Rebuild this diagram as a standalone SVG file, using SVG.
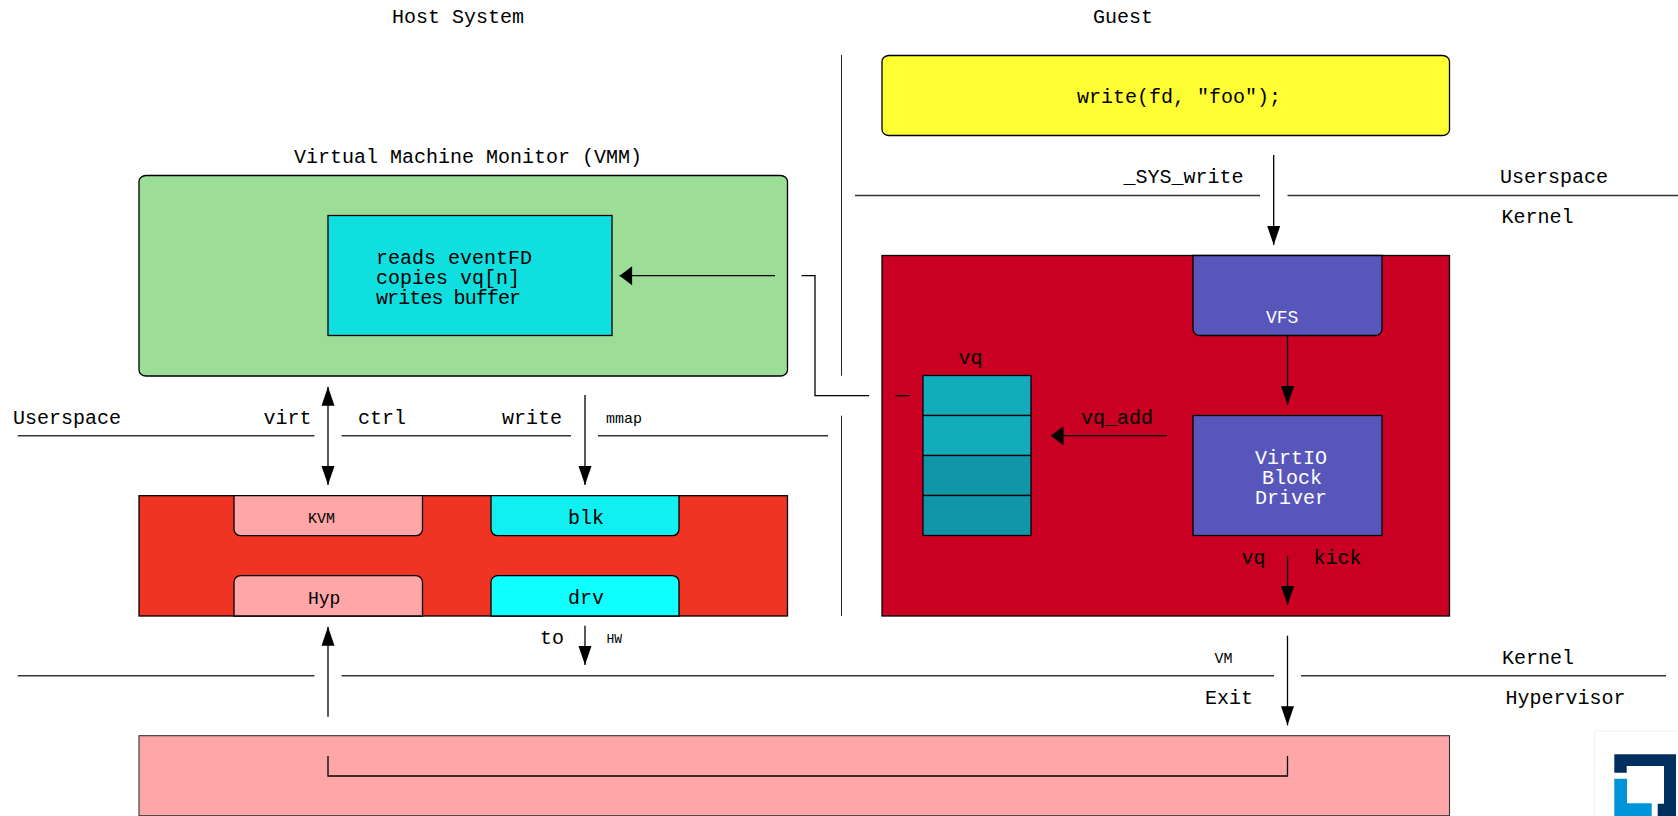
<svg xmlns="http://www.w3.org/2000/svg" width="1678" height="816" viewBox="0 0 1678 816">
<style>
text{font-family:"Liberation Mono","Courier New",monospace;font-size:20px;fill:#000}
.s{font-size:15px}
.m{font-size:18px}
.w{fill:#fff}
.b{stroke:#000;stroke-width:1.3}
.l{fill:none;stroke:#000;stroke-width:1.3}
.t{fill:none;stroke:#222;stroke-width:1}
.g{fill:none;stroke:#333;stroke-width:1.4}
</style>
<defs>
<marker id="down" markerUnits="userSpaceOnUse" markerWidth="14" markerHeight="20" refX="6.5" refY="19" orient="0" overflow="visible"><path d="M0 0L13 0L6.5 19Z"/></marker>
<marker id="up" markerUnits="userSpaceOnUse" markerWidth="14" markerHeight="20" refX="6.5" refY="0" orient="0" overflow="visible"><path d="M0 19L13 19L6.5 0Z"/></marker>
<marker id="left" markerUnits="userSpaceOnUse" markerWidth="13" markerHeight="20" refX="0" refY="9.5" orient="0" overflow="visible"><path d="M12.5 0L12.5 19L0 9.5Z"/></marker>
</defs>
<rect width="1678" height="816" fill="#fff"/>

<g id="titles">
<text x="392" y="23">Host System</text>
<text x="1093" y="23">Guest</text>
<text x="294" y="163">Virtual Machine Monitor (VMM)</text>
</g>

<g id="user-app">
<rect class="b" x="882" y="55.5" width="567.5" height="80" rx="7" ry="6" fill="#ffff33"/>
<text x="1077" y="103">write(fd, "foo");</text>
</g>

<g id="vmm">
<rect class="b" x="139" y="175.5" width="648.5" height="200.5" rx="7" ry="6" fill="#9cde98"/>
</g>
<g id="vmm-worker">
<rect class="b" x="328" y="215.5" width="284" height="120" fill="#10dfdf"/>
<text x="376" y="263.5">reads eventFD</text>
<text x="376" y="283.5">copies vq[n]</text>
<text x="376" y="303.5" style="letter-spacing:-0.92px">writes buffer</text>
</g>

<g id="guest-kernel">
<rect class="b" x="882" y="255.5" width="567.5" height="360.5" fill="#c90022"/>
</g>
<g id="vfs">
<path class="b" d="M1193 255.5H1382V329A6.5 6.5 0 0 1 1375.5 335.5H1199.5A6.5 6.5 0 0 1 1193 329Z" fill="#5856bb"/>
<text class="w m" x="1266" y="323">VFS</text>
</g>
<g id="virtio-driver">
<rect class="b" x="1193" y="415.5" width="189" height="120" fill="#5856bb"/>
<text class="w" x="1255" y="463.5">VirtIO</text>
<text class="w" x="1262" y="483.5">Block</text>
<text class="w" x="1255" y="503.5">Driver</text>
</g>
<g id="virtqueue">
<rect class="b" x="923" y="375.5" width="108" height="40" fill="#12acbc"/>
<rect class="b" x="923" y="415.5" width="108" height="40" fill="#12acbc"/>
<rect class="b" x="923" y="455.5" width="108" height="40" fill="#1096a8"/>
<rect class="b" x="923" y="495.5" width="108" height="40" fill="#1096a8"/>
<text x="958.5" y="363.5">vq</text>
</g>

<g id="host-kernel">
<rect class="b" x="139" y="495.7" width="648.5" height="120.3" fill="#f03424"/>
</g>
<g id="kvm">
<path class="b" d="M234 495.7H422.5V529A6.5 6.5 0 0 1 416 535.7H240.5A6.5 6.5 0 0 1 234 529Z" fill="#ffa6a8"/>
<text class="s" x="308" y="522.5">KVM</text>
</g>
<g id="blk">
<path class="b" d="M491 495.7H679V529A6.5 6.5 0 0 1 672.5 535.7H497.5A6.5 6.5 0 0 1 491 529Z" fill="#10f0f0"/>
<text x="568" y="523.5">blk</text>
</g>
<g id="hyp">
<path class="b" d="M234 616V582A6.5 6.5 0 0 1 240.5 575.7H416A6.5 6.5 0 0 1 422.5 582V616Z" fill="#ffa6a8"/>
<text class="m" x="308" y="603.5">Hyp</text>
</g>
<g id="drv">
<path class="b" d="M491 616V582A6.5 6.5 0 0 1 497.5 575.7H672.5A6.5 6.5 0 0 1 679 582V616Z" fill="#10ffff"/>
<text x="568" y="603.5">drv</text>
</g>

<g id="hypervisor">
<rect x="139" y="735.7" width="1310.5" height="80" fill="#ffa6a8" stroke="#333" stroke-width="1.1"/>
</g>

<g id="connectors">
<path class="t" d="M841.5 55V375.7M841.5 415.7V616"/>
<path class="g" d="M855 195.5H1260M1287.5 195.5H1678"/>
<path class="g" d="M17.7 435.7H314.5M341.7 435.7H571M598 435.7H828"/>
<path class="g" d="M17.7 675.7H314.5M341.7 675.7H1274M1301 675.7H1666"/>
<path class="l" d="M1273.7 155V245" marker-end="url(#down)"/>
<path class="l" d="M1287.5 335.5V405" marker-end="url(#down)"/>
<path class="l" d="M1167 435.7H1051" marker-end="url(#left)"/>
<path class="l" d="M1287.5 555.7V605" marker-end="url(#down)"/>
<path class="l" d="M1287.5 635.7V725.3" marker-end="url(#down)"/>
<path class="l" d="M328 386.7V485" marker-start="url(#up)" marker-end="url(#down)"/>
<path class="l" d="M585 395V485" marker-end="url(#down)"/>
<path class="l" d="M585 625.7V665" marker-end="url(#down)"/>
<path class="l" d="M328 716.7V626.7" marker-end="url(#up)"/>
<path class="l" d="M328 756V776H1287.5V756"/>
<path class="l" d="M775 275.7H619.6" marker-end="url(#left)"/>
<path class="l" d="M801.5 275.7H815V395.7H869"/>
<path class="l" d="M895.6 395.7H909.5"/>
</g>

<g id="labels">
<text x="13" y="423.5">Userspace</text>
<text x="263.5" y="423.5">virt</text>
<text x="358" y="423.5">ctrl</text>
<text x="502" y="423.5">write</text>
<text class="s" x="606" y="422.5">mmap</text>
<text x="540" y="643.5">to</text>
<text class="s" x="606.5" y="642.5" style="font-size:13px">HW</text>
<text x="1123.5" y="183">_SYS_write</text>
<text x="1500" y="183">Userspace</text>
<text x="1501.5" y="223">Kernel</text>
<text x="1081" y="423.5">vq_add</text>
<text x="1241.5" y="563.5">vq</text>
<text x="1313.5" y="563.5">kick</text>
<text class="s" x="1214.5" y="662.5">VM</text>
<text x="1502" y="663.5">Kernel</text>
<text x="1205" y="703.5">Exit</text>
<text x="1505.5" y="703.5">Hypervisor</text>
</g>

<g id="logo">
<path d="M1678 731H1594.5V816" fill="#fff" stroke="#efefef" stroke-width="1"/>
<path d="M1614.3 754.3H1676V816H1657.7V803.7H1664V766H1626.7V772.7H1614.3Z" fill="#002f5f"/>
<path d="M1614.3 778.7H1627V803.3H1651.7V816H1614.3Z" fill="#0095d9"/>
</g>
</svg>
